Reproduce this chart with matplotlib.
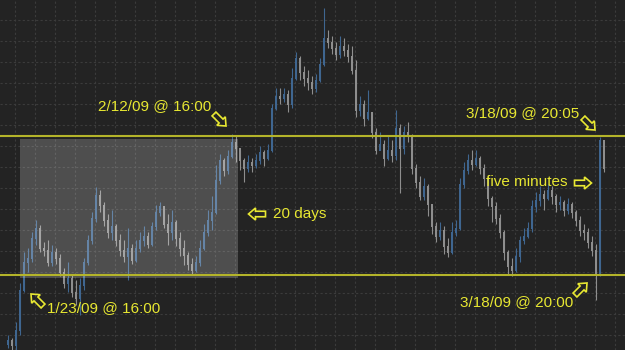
#!/usr/bin/env python3
"""Dark candlestick chart: 20-day range breakout annotated with timestamps."""

import numpy as np
import matplotlib

matplotlib.use("Agg")
import matplotlib.pyplot as plt
from matplotlib.patches import Polygon, Rectangle

BG = "#232323"
GRID = "#3b3b3b"
UP = "#3f6690"
DOWN = "#8e8e8e"
LEVEL = "#b4b42a"
NOTE = "#e8e832"

# price levels (arbitrary units), one candle per step
close = [
    10, 5, 20, 60, 88, 92, 112, 122, 102, 100,
    88, 98, 92, 78, 67, 72, 58, 52, 65, 88,
    110, 132, 155, 145, 130, 118, 124, 110, 100, 94,
    102, 90, 102, 110, 114, 106, 124, 138, 144, 126,
    118, 128, 112, 102, 95, 86, 80, 88, 102, 118,
    130, 138, 170, 190, 180, 194, 208, 202, 190, 182,
    188, 185, 190, 198, 192, 200, 242, 254, 252, 256,
    246, 272, 292, 278, 272, 268, 262, 270, 286, 312,
    308, 302, 296, 304, 300, 294, 280, 240, 246, 232,
    238, 218, 200, 206, 192, 200, 195, 222, 202, 218,
    214, 182, 168, 154, 164, 146, 124, 114, 120, 104,
    98, 118, 122, 166, 180, 190, 186, 192, 182, 172,
    152, 144, 132, 118, 98, 84, 80, 94, 110, 114,
    122, 144, 150, 156, 152, 160, 154, 146, 148, 140,
    146, 138, 130, 120, 118, 108, 100, 76, 210, 182,
]
high = [
    15, 12, 28, 67, 98, 102, 118, 130, 125, 108,
    110, 105, 102, 96, 82, 88, 75, 70, 72, 92,
    115, 138, 163, 160, 148, 136, 140, 126, 116, 110,
    122, 106, 110, 118, 124, 118, 128, 145, 148, 140,
    136, 140, 130, 118, 110, 98, 92, 94, 110, 126,
    140, 154, 185, 196, 192, 200, 216, 214, 200, 192,
    195, 192, 196, 204, 200, 206, 246, 262, 262, 262,
    260, 282, 298, 294, 284, 280, 274, 276, 292, 342,
    320, 314, 308, 314, 312, 306, 304, 290, 254, 250,
    260, 238, 222, 218, 210, 214, 210, 240, 226, 224,
    228, 216, 186, 174, 172, 166, 144, 128, 128, 124,
    112, 128, 130, 172, 188, 196, 200, 200, 194, 186,
    174, 154, 148, 136, 120, 100, 92, 102, 114, 122,
    128, 150, 158, 164, 160, 166, 164, 156, 154, 150,
    152, 148, 140, 134, 126, 122, 114, 106, 213, 190,
]
low = [
    2, 0, 0, 15, 58, 78, 88, 105, 98, 94,
    84, 84, 86, 74, 62, 58, 53, 45, 35, 60,
    85, 106, 128, 138, 124, 112, 110, 104, 94, 88,
    70, 86, 88, 98, 104, 102, 104, 120, 134, 122,
    105, 110, 104, 94, 85, 80, 75, 78, 84, 100,
    114, 120, 136, 166, 174, 176, 192, 188, 180, 168,
    178, 178, 182, 186, 184, 190, 198, 240, 246, 248,
    238, 242, 270, 270, 264, 260, 256, 258, 268, 284,
    302, 296, 290, 292, 294, 288, 276, 233, 234, 224,
    230, 212, 196, 200, 184, 190, 188, 190, 157, 196,
    208, 176, 162, 150, 150, 134, 116, 108, 110, 96,
    93, 96, 114, 120, 162, 176, 180, 184, 176, 164,
    144, 128, 126, 112, 90, 76, 74, 78, 88, 106,
    112, 118, 138, 144, 140, 150, 146, 138, 140, 134,
    136, 132, 124, 114, 110, 102, 94, 50, 74, 178,
]
first_open = 6

# breakout levels and the 20-day range box (bar index / price)
upper_level = 214
lower_level = 75
range_start, range_end = 3, 57.5
range_low, range_high = 72, 211

close = np.array(close)
high = np.array(high)
low = np.array(low)
opn = np.r_[first_open, close[:-1]]
idx = np.arange(len(close))
up = close >= opn

fig = plt.figure(figsize=(6.25, 3.5), dpi=100, facecolor=BG)
ax = fig.add_axes([0, 0, 1, 1])
ax.set_facecolor(BG)
ax.set_xlim(-2, 154.25)
ax.set_ylim(0, 350)

ax.set_xticks(np.arange(1.75, 155, 5))
ax.set_yticks(np.arange(15, 350, 21))
ax.grid(True, color=GRID, ls=(0, (2, 2)), lw=0.8, zorder=0)
ax.tick_params(length=0, labelbottom=False, labelleft=False)
for s in ax.spines.values():
    s.set_visible(False)

colors = np.where(up, UP, DOWN)
ax.vlines(idx, low, high, colors=colors, lw=0.8, zorder=2)
ax.bar(idx, np.abs(close - opn) + 1, bottom=np.minimum(close, opn) - 0.5,
       width=0.6, color=colors, linewidth=0, zorder=3)

ax.add_patch(Rectangle((range_start, range_low), range_end - range_start,
                       range_high - range_low, facecolor="white", alpha=0.2,
                       edgecolor="none", zorder=4))
ax.axhline(upper_level, color=LEVEL, lw=1.5, zorder=5)
ax.axhline(lower_level, color=LEVEL, lw=1.5, zorder=5)

# annotation overlay in pixel space (y down)
ov = fig.add_axes([0, 0, 1, 1])
ov.set_xlim(0, 625)
ov.set_ylim(350, 0)
ov.axis("off")
ov.patch.set_alpha(0)


def block_arrow(cx, cy, angle, length=17, shaft=5.5, head=12, head_len=7):
    h = length / 2
    pts = np.array([
        (-h, -shaft / 2), (h - head_len, -shaft / 2), (h - head_len, -head / 2),
        (h, 0), (h - head_len, head / 2), (h - head_len, shaft / 2), (-h, shaft / 2),
    ])
    a = np.deg2rad(angle)
    rot = np.array([[np.cos(a), -np.sin(a)], [np.sin(a), np.cos(a)]])
    pts = pts @ rot.T + (cx, cy)
    ov.add_patch(Polygon(pts, closed=True, facecolor="none", edgecolor=NOTE,
                         lw=1.2, joinstyle="miter"))


def note(x, y, s):
    ov.text(x, y, s, color=NOTE, fontsize=11, family="Liberation Sans",
            ha="left", va="center")


note(98, 106, "2/12/09 @ 16:00")
block_arrow(220, 120, 45)
note(466, 113, "3/18/09 @ 20:05")
block_arrow(589, 124, 45)
note(486, 182, "five minutes")
block_arrow(583, 183, 0)
note(460, 302, "3/18/09 @ 20:00")
block_arrow(581, 289, -45)
note(47, 308, "1/23/09 @ 16:00")
block_arrow(37, 300, 225)
note(273, 214, "20 days")
block_arrow(257, 214, 180)

fig.savefig("out.png", dpi=100, facecolor=BG)
